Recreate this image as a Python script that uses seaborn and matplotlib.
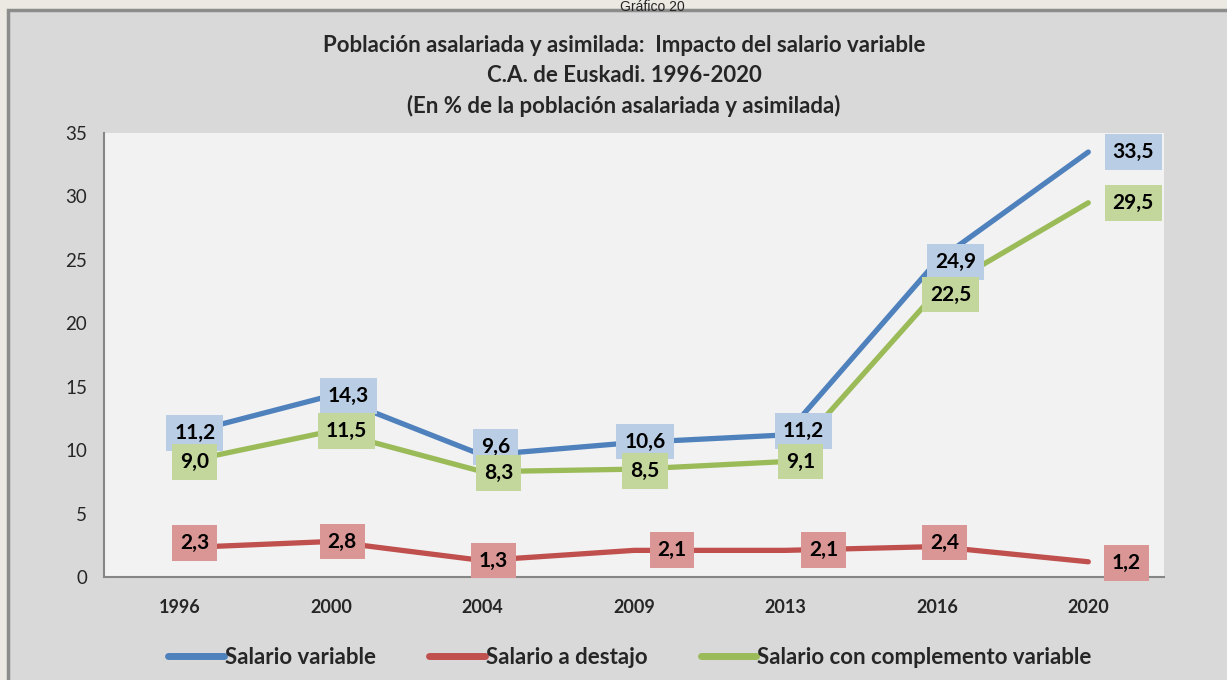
import pandas as pd
import seaborn as sns
import matplotlib.pyplot as plt
from matplotlib.patches import Rectangle
from matplotlib.ticker import FixedLocator

# Data
years = ["1996", "2000", "2004", "2009", "2013", "2016", "2020"]
salario_variable = [11.2, 14.3, 9.6, 10.6, 11.2, 24.9, 33.5]
salario_destajo = [2.3, 2.8, 1.3, 2.1, 2.1, 2.4, 1.2]
salario_complemento = [9.0, 11.5, 8.3, 8.5, 9.1, 22.5, 29.5]
series_names = ["Salario variable", "Salario a destajo", "Salario con complemento variable"]

# Build long-format table
df = pd.DataFrame({
    "pos": list(range(len(years))) * 3,
    "valor": salario_variable + salario_destajo + salario_complemento,
    "Serie": [s for s in series_names for _ in years],
})

line_colors = {"Salario variable": "#4f81bd",
               "Salario a destajo": "#c0504d",
               "Salario con complemento variable": "#9bbb59"}
box_colors = {"Salario variable": "#b9cde5",
              "Salario a destajo": "#d99694",
              "Salario con complemento variable": "#c3d69b"}

# label offsets in pixels (manual placement as in the original)
label_offsets = {
    "Salario variable": [(15, 2), (17, 0), (13, 8), (11, 1), (18, 4), (19, -1), (45, 0)],
    "Salario a destajo": [(15, 5), (11, 0), (11, 0), (38, 0), (38, 0), (8, 4), (38, -1)],
    "Salario con complemento variable": [(15, 1), (15, 0), (16, -1), (11, -2), (15, 0), (14, -3), (45, 0)],
}

sns.set_style("white")
plt.rcParams["font.family"] = ["Lato", "DejaVu Sans"]

fig = plt.figure(figsize=(12.27, 6.8), dpi=100, facecolor="#ece9e2")
frame = Rectangle((8 / 1227, -0.05), 1.1, 1 - 10 / 680 + 0.05,
                  transform=fig.transFigure, facecolor="#d9d9d9",
                  edgecolor="#8c8c8c", linewidth=2.5, zorder=-10)
fig.add_artist(frame)

ax = fig.add_axes([104 / 1227, 1 - 577 / 680, 1060 / 1227, 444 / 680])
ax.set_facecolor("#f2f2f2")

sns.lineplot(data=df, x="pos", y="valor", hue="Serie", palette=line_colors,
             linewidth=3.8, ax=ax, legend=True)

# Data labels
for name, vals in zip(series_names, [salario_variable, salario_destajo, salario_complemento]):
    for i, v in enumerate(vals):
        dx, dy = label_offsets[name][i]
        ax.annotate(f"{v:.1f}".replace(".", ","), (i, v), xytext=(dx, dy),
                    textcoords="offset pixels", ha="center", va="center",
                    fontsize=15, fontweight="bold", color="black",
                    bbox=dict(boxstyle="square,pad=0.38", facecolor=box_colors[name],
                              edgecolor="none"), zorder=5)

ax.set_xlim(-0.5, len(years) - 0.5)
ax.set_ylim(0, 35)
ax.set_yticks(range(0, 36, 5))
ax.set_xticks(range(len(years)))
ax.set_xticklabels(years, fontweight="bold", fontsize=13)
ax.xaxis.set_minor_locator(FixedLocator([k - 0.5 for k in range(len(years) + 1)]))
ax.tick_params(axis="x", which="major", length=0, pad=16)
ax.tick_params(axis="x", which="minor", length=6, color="#868686", width=1.2, direction="out")
ax.tick_params(axis="y", length=7, color="#868686", width=1.2, direction="out", labelsize=13.5, pad=5)
ax.set_xlabel("")
ax.set_ylabel("")
for side in ["top", "right"]:
    ax.spines[side].set_visible(False)
for side in ["left", "bottom"]:
    ax.spines[side].set_color("#868686")
    ax.spines[side].set_linewidth(1.5)

# Legend at the bottom
handles, labels = ax.get_legend_handles_labels()
ax.get_legend().remove()
leg = fig.legend(handles, labels, loc="center", bbox_to_anchor=(630 / 1227, 1 - 657 / 680),
                 ncol=3, frameon=False, handlelength=2.5, handletextpad=0.05,
                 columnspacing=2.4, prop={"weight": "bold", "size": 16})
for h in leg.get_lines():
    h.set_linewidth(5)
    h.set_solid_capstyle("round")

# Titles
fig.text(652 / 1227, 1.0, "Gráfico 20", ha="center", va="top",
         fontsize=10, family=["Liberation Sans", "DejaVu Sans"])
title_lines = ["Población asalariada y asimilada:  Impacto del salario variable",
               "C.A. de Euskadi. 1996-2020",
               "(En % de la población asalariada y asimilada)"]
for line, ypx in zip(title_lines, [46, 75, 106]):
    fig.text(624 / 1227, 1 - ypx / 680, line, ha="center", va="center",
             fontsize=16, fontweight="bold")

fig.savefig("out.png", dpi=100, facecolor=fig.get_facecolor())
